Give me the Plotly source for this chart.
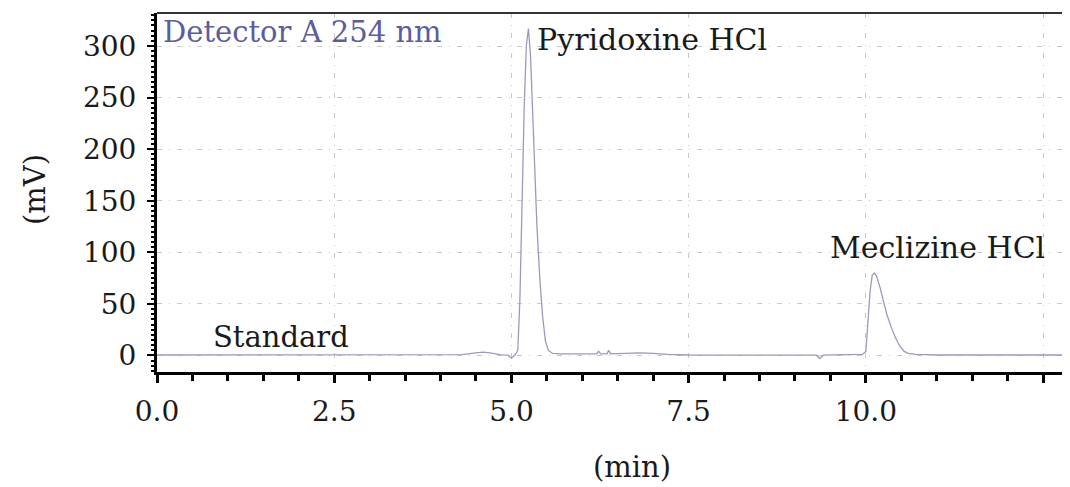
import plotly.graph_objects as go

# Retention time (min) and detector response (mV)
time_min = [0.0, 0.5, 1.0, 1.5, 2.0, 2.5, 3.0, 3.5, 4.0, 4.3, 4.5, 4.6, 4.7, 4.85, 4.95,
            5.0, 5.05, 5.09, 5.12, 5.15, 5.18, 5.21, 5.24, 5.27, 5.30, 5.33, 5.36, 5.40,
            5.44, 5.48, 5.52, 5.58, 5.7, 5.9, 6.1, 6.2, 6.23, 6.26, 6.35, 6.37, 6.40, 6.6,
            6.8, 7.0, 7.2, 7.5, 8.0, 8.5, 9.0, 9.3, 9.35, 9.4, 9.7, 9.95, 10.0, 10.03,
            10.06, 10.09, 10.12, 10.15, 10.2, 10.25, 10.3, 10.36, 10.42, 10.48, 10.54,
            10.6, 10.7, 10.85, 11.0, 11.5, 12.0, 12.5, 12.88]
signal_mv = [0.5, 0.5, 0.5, 0.5, 0.5, 0.5, 0.5, 0.5, 0.5, 0.8, 2.5, 3.2, 2.5, 0.6, 0.3,
             -2.5, 0.5, 5, 55, 150, 240, 300, 317, 290, 235, 180, 125, 75,
             38, 14, 5, 2, 1.5, 1.5, 1.5, 1.5, 4, 1.5, 1.5, 5, 1.5, 2,
             2.5, 2, 1, 0.5, 0.5, 0.5, 0.5, 0.3, -3, 0.3, 0.8, 1, 4, 30,
             62, 78, 80, 77, 66, 52, 39, 27, 17, 9, 4,
             2, 1, 0.8, 0.5, 0.5, 0.5, 0.5, 0.5]

x_ticks = [0.0, 2.5, 5.0, 7.5, 10.0, 12.5]
x_tick_labels = ["0.0", "2.5", "5.0", "7.5", "10.0", ""]
y_ticks = [0, 50, 100, 150, 200, 250, 300]
y_tick_labels = ["0", "50", "100", "150", "200", "250", "300"]

peak_names = ["Pyridoxine HCl", "Meclizine HCl", "Standard", "Detector A 254 nm"]
peak_label_x = [5.33, 9.47, 0.76, 0.06]
peak_label_y = [306, 105, 18, 314]
label_colors = ["#1a1a1a", "#1a1a1a", "#1a1a1a", "#5c5ca0"]
label_sizes = [30, 30, 29, 29]

FONT = "DejaVu Serif"

fig = go.Figure()
fig.add_trace(go.Scatter(x=time_min, y=signal_mv, mode="lines",
                         line=dict(color="#9a9ac0", width=1.3), showlegend=False,
                         hoverinfo="skip"))

for name, lx, ly, col, sz in zip(peak_names, peak_label_x, peak_label_y, label_colors, label_sizes):
    fig.add_annotation(x=lx, y=ly, text=name, showarrow=False, xanchor="left",
                       yanchor="middle", font=dict(family=FONT, size=sz, color=col))

# axis titles (placed in paper coordinates)
fig.add_annotation(xref="paper", yref="paper", x=-0.1336, y=0.507, text="(mV)",
                   textangle=-90, showarrow=False, xanchor="center", yanchor="middle",
                   font=dict(family=FONT, size=29, color="#1a1a1a"))
fig.add_annotation(xref="paper", yref="paper", x=0.520, y=-0.265, text="(min)",
                   showarrow=False, xanchor="center", yanchor="middle",
                   font=dict(family=FONT, size=29, color="#1a1a1a"))

grid_dash = "5px,7px,1px,7px"
fig.update_layout(
    width=1062, height=479,
    margin=dict(l=149, r=0, t=5, b=115),
    paper_bgcolor="white", plot_bgcolor="white",
    font=dict(family=FONT, color="#1a1a1a"),
    xaxis=dict(range=[0, 12.88], tickmode="array", tickvals=x_ticks, ticktext=x_tick_labels,
               automargin=False,
               showline=True, linecolor="black", linewidth=3,
               ticks="outside", ticklen=8, tickwidth=3, tickcolor="black",
               tickfont=dict(family=FONT, size=28, color="#1a1a1a"),
               ticklabelstandoff=4,
               showgrid=True, gridcolor="#c8c8c8", gridwidth=1, griddash=grid_dash,
               zeroline=False,
               minor=dict(dtick=0.5, ticks="outside", ticklen=6, tickwidth=3,
                          tickcolor="black", showgrid=False)),
    yaxis=dict(range=[-16, 332], tickmode="array", tickvals=y_ticks, ticktext=y_tick_labels,
               automargin=False,
               showline=True, linecolor="black", linewidth=3,
               ticks="outside", ticklen=7, tickwidth=2, tickcolor="black",
               tickfont=dict(family=FONT, size=28, color="#1a1a1a"),
               ticklabelstandoff=5,
               showgrid=True, gridcolor="#c8c8c8", gridwidth=1, griddash=grid_dash,
               zeroline=False,
               minor=dict(dtick=5, ticks="outside", ticklen=3, tickwidth=2,
                          tickcolor="black", showgrid=False)),
)
# top frame line
fig.add_shape(type="line", xref="paper", yref="paper", x0=0, x1=1, y0=1, y1=1,
              line=dict(color="#333333", width=2))

fig.write_html("out.html")
